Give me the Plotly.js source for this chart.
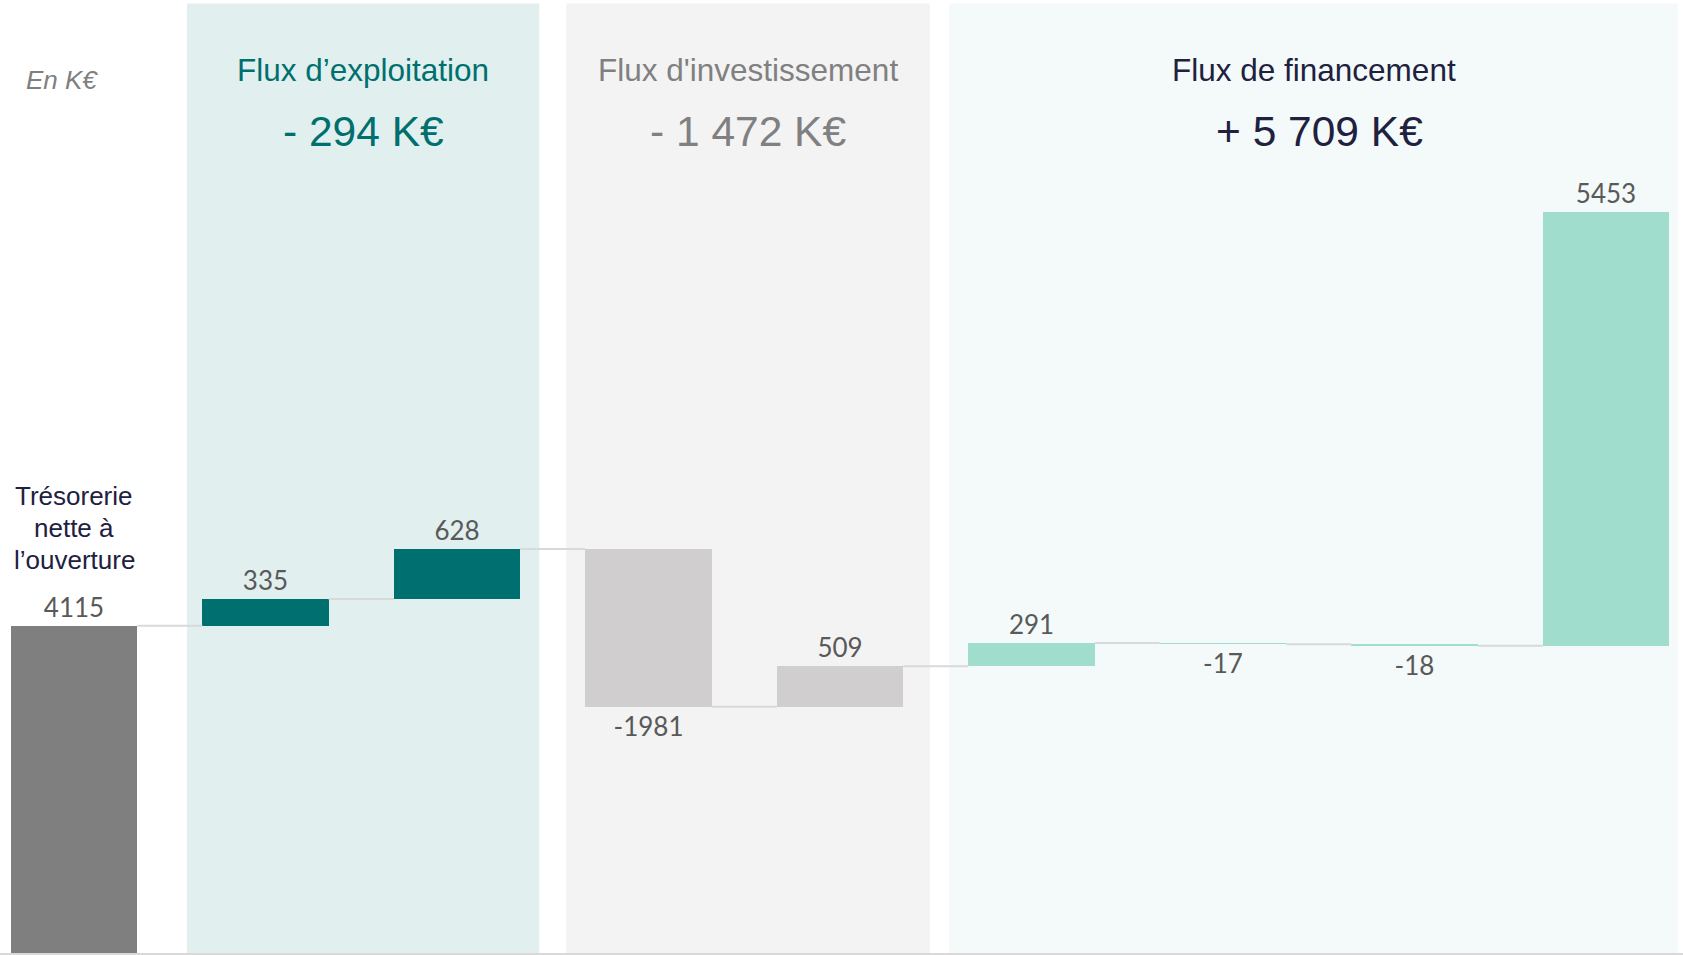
<!DOCTYPE html>
<html>
<head>
<meta charset="utf-8">
<script src="https://cdn.plot.ly/plotly-3.0.1.min.js"></script>
<style>
  html, body { margin: 0; padding: 0; background: #ffffff; }
  #chart { width: 1683px; height: 955px; }
</style>
</head>
<body>
<div id="chart"></div>
<script>
// ---- Data ----
const categories = [
  'Trésorerie nette à l’ouverture',
  'Exploitation 1', 'Exploitation 2',
  'Investissement 1', 'Investissement 2',
  'Financement 1', 'Financement 2', 'Financement 3', 'Financement 4'
];
const values = [4115, 335, 628, -1981, 509, 291, -17, -18, 5453];
const groups = ['ouverture', 'exploitation', 'exploitation', 'investissement', 'investissement',
                'financement', 'financement', 'financement', 'financement'];
const openingLabelLines = ['Trésorerie', 'nette à', 'l’ouverture'];
const sectionTitles = ['Flux d’exploitation', "Flux d'investissement", 'Flux de financement'];
const sectionTotals = ['- 294 K€', '- 1 472 K€', '+ 5 709 K€'];
const unitLabel = 'En K€';

// ---- Styles ----
const groupColors = {
  ouverture: '#7f7f7f',
  exploitation: '#006f70',
  investissement: '#d0cece',
  financement: '#a0ddcd'
};
const sectionBg = ['#e2efef', '#f3f3f3', '#f4f9f9'];
const sectionTextColor = ['#00706f', '#808080', '#20203f'];
const sectionSpans = [[0.59, 2.43], [2.57, 4.47], [4.57, 8.375]];
const totalXShift = [0, 0, 6];
const barWidth = 0.66;
const headFont = 'Liberation Sans, Arial, sans-serif';
const openingLineShift = [130, 98, 66];

// ---- Derived waterfall geometry ----
const xs = values.map((_, i) => i);
const bases = [];
const cums = [];
let running = 0;
values.forEach((v, i) => {
  const b = (groups[i] === 'ouverture') ? 0 : running;
  bases.push(b);
  running = b + v;
  cums.push(running);
});

const connX = [], connY = [];
for (let i = 0; i < values.length - 1; i++) {
  connX.push(i + barWidth / 2, i + 1 - barWidth / 2, null);
  connY.push(cums[i], cums[i], null);
}

const bars = {
  type: 'bar',
  x: xs,
  y: values,
  base: bases,
  width: barWidth,
  marker: { color: groups.map(g => groupColors[g]), line: { width: 0 } },
  text: values.map(v => String(v)),
  textposition: 'outside',
  constraintext: 'none',
  cliponaxis: false,
  textfont: { family: 'Lato, Carlito, sans-serif', size: 26, color: '#595959' },
  hovertext: categories,
  hoverinfo: 'text+y',
  showlegend: false
};

const connectors = {
  type: 'scatter',
  mode: 'lines',
  x: connX,
  y: connY,
  line: { color: '#d9d9d9', width: 2 },
  hoverinfo: 'skip',
  showlegend: false
};

const plotH = 953;
const pY = px => 1 - px / plotH;

const shapes = sectionSpans.map((s, k) => ({
  type: 'rect', xref: 'x', yref: 'paper', layer: 'below',
  x0: s[0], x1: s[1], y0: 0, y1: pY(3.5),
  fillcolor: sectionBg[k], line: { width: 0 }
}));

const annotations = [];
sectionSpans.forEach((s, k) => {
  const cx = (s[0] + s[1]) / 2;
  annotations.push({
    xref: 'x', yref: 'paper', x: cx, y: pY(70), xanchor: 'center', yanchor: 'middle',
    text: sectionTitles[k], showarrow: false,
    font: { family: headFont, size: 31.5, color: sectionTextColor[k] }
  });
  annotations.push({
    xref: 'x', yref: 'paper', x: cx, y: pY(131), xanchor: 'center', yanchor: 'middle',
    xshift: totalXShift[k],
    text: sectionTotals[k], showarrow: false,
    font: { family: headFont, size: 42.5, color: sectionTextColor[k] }
  });
});
annotations.push({
  xref: 'paper', yref: 'paper', x: 62 / 1683, y: pY(80), xanchor: 'center', yanchor: 'middle',
  text: '<i>' + unitLabel + '</i>', showarrow: false,
  font: { family: headFont, size: 26, color: '#7f7f7f' }
});
openingLabelLines.forEach((line, j) => {
  annotations.push({
    xref: 'x', yref: 'y', x: 0, y: cums[0], xanchor: 'center', yanchor: 'middle',
    yshift: openingLineShift[j],
    text: line, showarrow: false,
    font: { family: headFont, size: 26, color: '#20203f' }
  });
});

const layout = {
  width: 1683, height: 955,
  margin: { l: 0, r: 0, t: 0, b: 2, pad: 0 },
  paper_bgcolor: '#ffffff', plot_bgcolor: 'rgba(0,0,0,0)',
  xaxis: {
    range: [-0.3864, 8.402], showticklabels: false, showgrid: false, zeroline: false,
    showline: true, linecolor: '#d9d9d9', linewidth: 2, ticks: '', fixedrange: true
  },
  yaxis: { range: [0, 11981], visible: false, fixedrange: true },
  shapes: shapes,
  annotations: annotations,
  bargap: 0,
  showlegend: false
};

Plotly.newPlot('chart', [bars, connectors], layout, { displayModeBar: false, staticPlot: true });
</script>
</body>
</html>
